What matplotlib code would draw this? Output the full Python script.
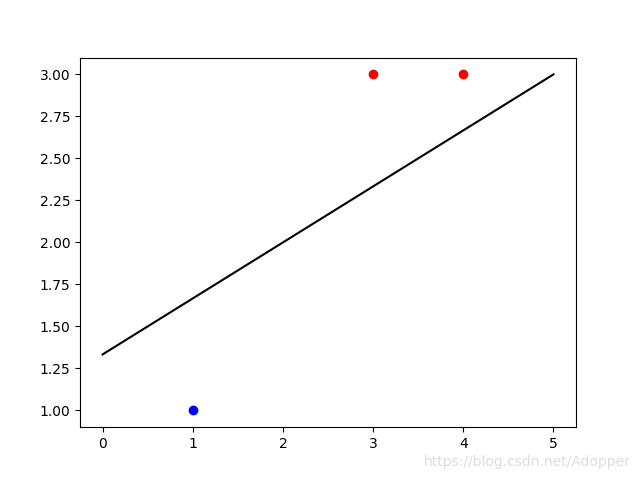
import matplotlib.pyplot as plt

# points of the two classes
blue_x = [1]
blue_y = [1]
red_x = [3, 4]
red_y = [3, 3]

# separating line end points
line_x = [0, 5]
line_y = [1.333, 3.0]

plt.figure(figsize=(6.4, 4.8), dpi=100)
plt.scatter(blue_x, blue_y, c='b')
plt.scatter(red_x, red_y, c='r')
plt.plot(line_x, line_y, 'k-')

# watermark
plt.gcf().text(0.985, 0.037, 'https://blog.csdn.net/Adopper', ha='right', va='center',
               fontsize=10, color='#dddddd')

plt.savefig('out.png')
